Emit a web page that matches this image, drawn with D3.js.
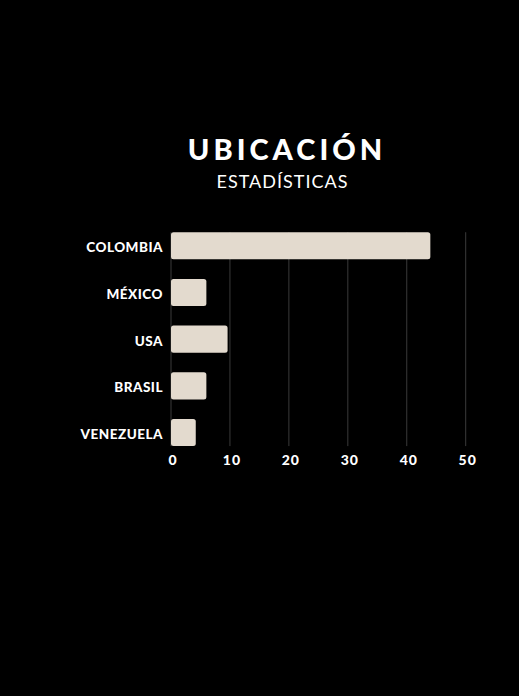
<!DOCTYPE html>
<html>
<head>
<meta charset="utf-8">
<script src="https://cdn.jsdelivr.net/npm/d3@7"></script>
<style>
  html, body { margin: 0; padding: 0; background: #000; }
  svg { display: block; }
</style>
</head>
<body>
<div id="chart"></div>
<script>
const categories = ["COLOMBIA", "MÉXICO", "USA", "BRASIL", "VENEZUELA"];
const values = [44, 6, 9.6, 6, 4.2];
const tickValues = [0, 10, 20, 30, 40, 50];
const title = "UBICACIÓN";
const subtitle = "ESTADÍSTICAS";

const W = 519, H = 696;
const svg = d3.select("#chart").append("svg")
  .attr("width", W).attr("height", H)
  .style("background", "#000");

const x = d3.scaleLinear().domain([0, 50]).range([171, 465.7]);
const y = d3.scaleBand().domain(categories)
  .range([222.4, 455.9])
  .paddingInner(0.42).paddingOuter(0.21);

const gridTop = y(categories[0]);
const gridBottom = y(categories[categories.length - 1]) + y.bandwidth();

// gridlines
svg.append("g").selectAll("line").data(tickValues).join("line")
  .attr("x1", d => x(d)).attr("x2", d => x(d))
  .attr("y1", gridTop).attr("y2", gridBottom)
  .attr("stroke", "#3a3a3a").attr("stroke-width", 1);

// bars
svg.append("g").selectAll("rect").data(categories).join("rect")
  .attr("x", x(0))
  .attr("y", d => y(d))
  .attr("width", (d, i) => x(values[i]) - x(0))
  .attr("height", y.bandwidth())
  .attr("rx", 2.5).attr("ry", 2.5)
  .attr("fill", "#e3dace");

// category labels
svg.append("g").selectAll("text").data(categories).join("text")
  .attr("x", x(0) - 8)
  .attr("y", d => y(d) + y.bandwidth() / 2 + 6.5)
  .attr("text-anchor", "end")
  .attr("fill", "#ffffff")
  .style("font-family", "Lato, 'Open Sans', sans-serif")
  .style("font-weight", 900)
  .style("font-size", "13.5px")
  .style("letter-spacing", "0.5px")
  .text(d => d);

// x axis tick labels
svg.append("g").selectAll("text").data(tickValues).join("text")
  .attr("x", d => x(d) + 2)
  .attr("y", 464.5)
  .attr("text-anchor", "middle")
  .attr("fill", "#ffffff")
  .style("font-family", "Lato, 'Open Sans', sans-serif")
  .style("font-weight", 900)
  .style("font-size", "14px")
  .style("letter-spacing", "1px")
  .text(d => d);

// title
svg.append("text")
  .attr("x", 287).attr("y", 160)
  .attr("text-anchor", "middle")
  .attr("fill", "#ffffff")
  .style("font-family", "Lato, sans-serif")
  .style("font-weight", 900)
  .style("font-size", "29px")
  .style("letter-spacing", "4px")
  .text(title);

svg.append("text")
  .attr("x", 282.5).attr("y", 187.7)
  .attr("text-anchor", "middle")
  .attr("fill", "#ffffff")
  .style("font-family", "Lato, sans-serif")
  .style("font-weight", 400)
  .style("font-size", "18px")
  .style("letter-spacing", "1px")
  .text(subtitle);
</script>
</body>
</html>
